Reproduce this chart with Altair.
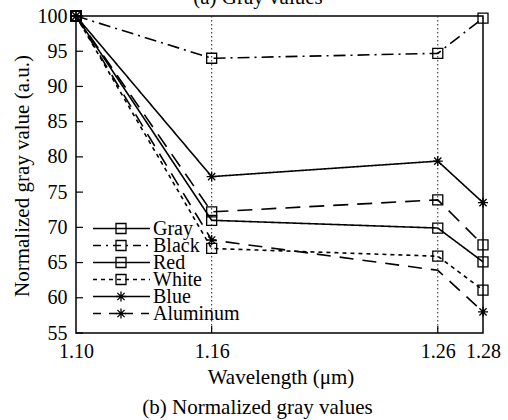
import altair as alt
import pandas as pd

# ---- data ----
wavelength = [1.10, 1.16, 1.26, 1.28]
series_names = ["Gray", "Black", "Red", "White", "Blue", "Aluminum"]
gray = [100, 71.0, 69.9, 65.1]
black = [100, 94.0, 94.7, 99.7]
red = [100, 72.2, 73.9, 67.5]
white = [100, 67.0, 65.9, 61.1]
blue = [100, 77.2, 79.4, 73.5]
aluminum = [100, 68.2, 63.9, 58.0]

x_tick_values = [1.10, 1.16, 1.26, 1.28]
y_tick_values = [55, 60, 65, 70, 75, 80, 85, 90, 95, 100]
grid_x = [1.16, 1.26]
hidden_markers = [("Aluminum", 1.26)]

FONT = "Liberation Serif"
STAR = "M-1,0L1,0M0,-1L0,1M-0.72,-0.72L0.72,0.72M-0.72,0.72L0.72,-0.72"
dash_range = [[1, 0], [12, 5, 2, 5], [15, 9], [4, 4], [1, 0], [14, 9]]
legend_dash = [[1, 0], [8, 5, 2, 5], [1, 0], [4, 4], [1, 0], [8, 8]]
shape_range = ["square", "square", "square", "square", STAR, STAR]

W, H = 407, 317

rows = []
for name, vals in zip(series_names, [gray, black, red, white, blue, aluminum]):
    for wl, v in zip(wavelength, vals):
        rows.append({"series": name, "wl": wl, "value": v,
                     "marker": (name, wl) not in hidden_markers})
df = pd.DataFrame(rows)

xs = alt.Scale(domain=[1.10, 1.28], nice=False, zero=False)
ys = alt.Scale(domain=[55, 100], nice=False, zero=False)
x_axis = alt.Axis(values=x_tick_values, format=".2f", title=None, labelPadding=8,
                  labelOverlap=False, labelFlush=False)
y_axis = alt.Axis(values=y_tick_values, format="d", title=None, labelPadding=9,
                  labelOverlap=False, labelFlush=False)


def X():
    return alt.X("wl:Q", scale=xs, axis=x_axis)


def Y():
    return alt.Y("value:Q", scale=ys, axis=y_axis)


base = alt.Chart(df)

grid = alt.Chart(pd.DataFrame({"wl": grid_x})).mark_rule(
    color="#222", strokeWidth=1, strokeDash=[1.5, 2.5]
).encode(x=X())

yticks = alt.Chart(pd.DataFrame({"value": y_tick_values})).mark_rule(
    color="black", strokeWidth=1.2
).encode(y=Y(), x=alt.value(0), x2=alt.value(7))

xticks = alt.Chart(pd.DataFrame({"wl": grid_x})).mark_rule(
    color="black", strokeWidth=1.2
).encode(x=X(), y=alt.value(H), y2=alt.value(H - 7))

lines = base.mark_line(color="black", strokeWidth=1.6).encode(
    x=X(), y=Y(),
    strokeDash=alt.StrokeDash("series:N", scale=alt.Scale(domain=series_names, range=dash_range), legend=None),
    detail="series:N",
)

points = base.transform_filter("datum.marker").mark_point(
    filled=False, color="black", size=100, strokeWidth=1.3, opacity=1
).encode(
    x=X(), y=Y(),
    shape=alt.Shape("series:N", scale=alt.Scale(domain=series_names, range=shape_range), legend=None),
)

layers = [grid, yticks, xticks, lines, points]

one = pd.DataFrame({"a": [0]})
for i, name in enumerate(series_names):
    yy = 212.5 + 17 * i
    layers.append(alt.Chart(one).mark_rule(color="black", strokeWidth=1.6, strokeDash=legend_dash[i]).encode(
        x=alt.value(17), x2=alt.value(74), y=alt.value(yy)))
    layers.append(alt.Chart(one).mark_point(shape=shape_range[i], filled=False, color="black", size=100,
                                            strokeWidth=1.3, opacity=1).encode(
        x=alt.value(45), y=alt.value(yy)))
    layers.append(alt.Chart(one).mark_text(align="left", baseline="alphabetic", font=FONT, fontSize=20,
                                           color="black").encode(
        x=alt.value(77), y=alt.value(yy + 6), text=alt.value(name)))

# titles / captions as text
layers.append(alt.Chart(one).mark_text(align="center", baseline="alphabetic", font=FONT, fontSize=21,
                                       color="black").encode(
    x=alt.value(205), y=alt.value(368), text=alt.value("Wavelength (μm)")))
layers.append(alt.Chart(one).mark_text(align="center", baseline="alphabetic", font=FONT, fontSize=21,
                                       color="black").encode(
    x=alt.value(181.5), y=alt.value(398), text=alt.value("(b) Normalized gray values")))
layers.append(alt.Chart(one).mark_text(align="center", baseline="alphabetic", font=FONT, fontSize=21,
                                       color="black").encode(
    x=alt.value(182), y=alt.value(-12), text=alt.value("(a) Gray values")))
layers.append(alt.Chart(one).mark_text(align="center", baseline="alphabetic", font=FONT, fontSize=21,
                                       color="black", angle=270).encode(
    x=alt.value(-47), y=alt.value(160), text=alt.value("Normalized gray value (a.u.)")))

chart = alt.layer(*layers).properties(
    width=W, height=H,
    autosize=alt.AutoSizeParams(type="none"),
    padding={"left": 76, "top": 16, "right": 25, "bottom": 87},
    background="white",
).configure_view(
    stroke="black", strokeWidth=1.5
).configure_axis(
    labelFont=FONT, labelFontSize=20, labelColor="black",
    domain=False, ticks=False, grid=False,
)

chart.save("out.html", embed_options={"renderer": "svg", "actions": False})
